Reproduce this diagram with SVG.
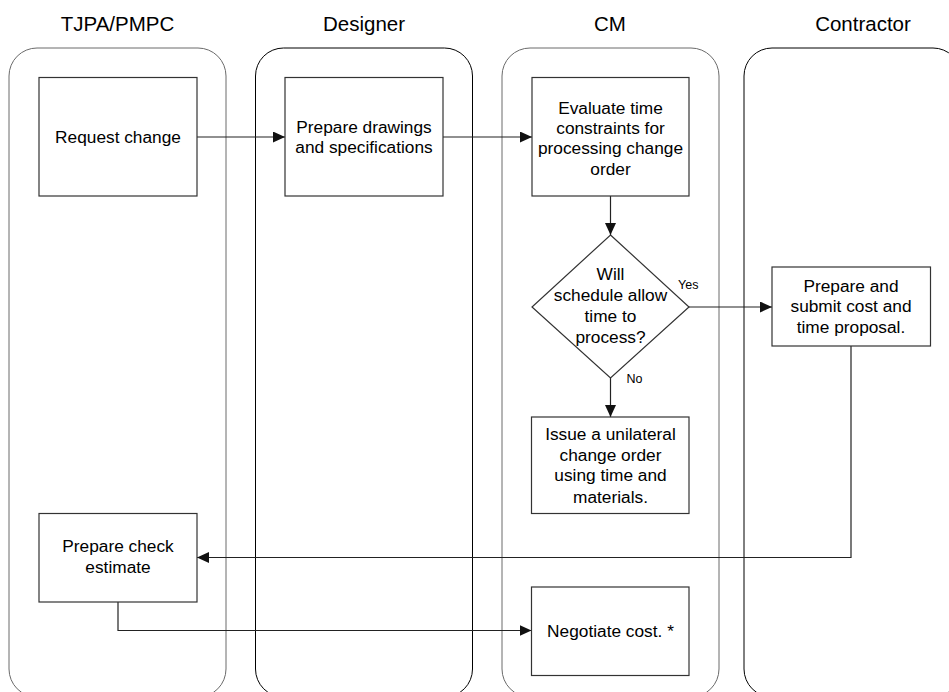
<svg xmlns="http://www.w3.org/2000/svg" width="949" height="692" viewBox="0 0 949 692">
<style>
text{font-family:"Liberation Sans",Arial,sans-serif;fill:#000;text-anchor:middle}
.hdr{font-size:20.5px}
.t{font-size:17.3px}
.lbl{font-size:12.5px;text-anchor:start}
.lane{fill:none;stroke-width:1}
.la{stroke:#6a6a6a}
.lb{stroke:#000}
.box{fill:#fff;stroke:#333;stroke-width:1.2}
.cn{fill:none;stroke:#222;stroke-width:1.2}
</style>
<defs>
<marker id="ah" viewBox="0 0 12 11" refX="12" refY="5.5" markerWidth="12" markerHeight="11" markerUnits="userSpaceOnUse" orient="auto">
<path d="M0,0 L12,5.5 L0,11 Z" fill="#111"/>
</marker>
</defs>
<g id="lanes">
<g id="lane-tjpa"><rect class="lane la" x="9" y="48" width="217" height="649" rx="28" ry="28"/><text class="hdr" x="117.5" y="31">TJPA/PMPC</text></g>
<g id="lane-designer"><rect class="lane lb" x="255.5" y="48" width="217" height="649" rx="28" ry="28"/><text class="hdr" x="364" y="31">Designer</text></g>
<g id="lane-cm"><rect class="lane la" x="502" y="48" width="217" height="649" rx="28" ry="28"/><text class="hdr" x="610" y="31">CM</text></g>
<g id="lane-contractor"><rect class="lane lb" x="744" y="48" width="217" height="649" rx="28" ry="28"/><text class="hdr" x="863" y="31">Contractor</text></g>
</g>
<g id="connectors">
<path class="cn" d="M197,137 H285" marker-end="url(#ah)"/>
<path class="cn" d="M443,137 H532" marker-end="url(#ah)"/>
<path class="cn" d="M610.5,196 V235" marker-end="url(#ah)"/>
<path class="cn" d="M689,307 H772" marker-end="url(#ah)"/>
<path class="cn" d="M610.5,378 V417" marker-end="url(#ah)"/>
<path class="cn" d="M851,346 V557.5 H197" marker-end="url(#ah)"/>
<path class="cn" d="M118,602 V630.5 H531.5" marker-end="url(#ah)"/>
<text class="lbl" x="678" y="288.5">Yes</text>
<text class="lbl" x="626.5" y="382.5">No</text>
</g>
<g id="n-request"><rect class="box" x="39" y="77.5" width="158" height="118.5"/><text class="t" x="118" y="142.7">Request change</text></g>
<g id="n-drawings"><rect class="box" x="285" y="77.5" width="158" height="118.5"/><text class="t" x="364" y="132.7">Prepare drawings</text><text class="t" x="364" y="152.7">and specifications</text></g>
<g id="n-evaluate"><rect class="box" x="532" y="77.5" width="157" height="118.5"/><text class="t" x="610.5" y="113.5">Evaluate time</text><text class="t" x="610.5" y="134">constraints for</text><text class="t" x="610.5" y="154">processing change</text><text class="t" x="610.5" y="174.5">order</text></g>
<g id="n-decision"><polygon class="box" points="610.5,235 689,307 610.5,378 532,307"/><text class="t" x="610.5" y="280">Will</text><text class="t" x="610.5" y="301">schedule allow</text><text class="t" x="610.5" y="322">time to</text><text class="t" x="610.5" y="343">process?</text></g>
<g id="n-proposal"><rect class="box" x="772" y="267" width="158.5" height="79"/><text class="t" x="851" y="291.7">Prepare and</text><text class="t" x="851" y="312.2">submit cost and</text><text class="t" x="851" y="333">time proposal.</text></g>
<g id="n-unilateral"><rect class="box" x="531.5" y="417" width="157.5" height="96.5"/><text class="t" x="610.5" y="439.5">Issue a unilateral</text><text class="t" x="610.5" y="460.5">change order</text><text class="t" x="610.5" y="481.3">using time and</text><text class="t" x="610.5" y="502.5">materials.</text></g>
<g id="n-check"><rect class="box" x="39" y="513.5" width="158" height="88.5"/><text class="t" x="118" y="552">Prepare check</text><text class="t" x="118" y="572.7">estimate</text></g>
<g id="n-negotiate"><rect class="box" x="531.5" y="587" width="157.5" height="88.5"/><text class="t" x="610.5" y="636.7">Negotiate cost. *</text></g>
</svg>
